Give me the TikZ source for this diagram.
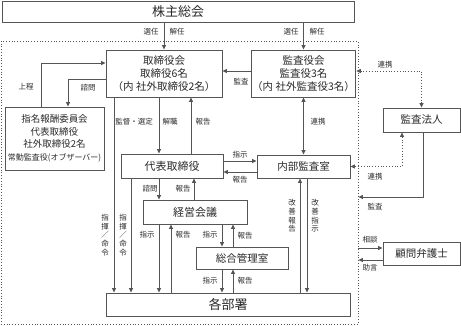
\documentclass[tikz,border=0pt]{standalone}
\usepackage{fontspec}
\setmainfont{Noto Sans CJK JP}
\usetikzlibrary{arrows.meta}
\definecolor{OrgLine}{HTML}{555555}
\definecolor{OrgText}{HTML}{2A2A2A}
\tikzset{
  >={Triangle[length=4.5pt,width=4pt]},
  box/.style={draw=OrgLine, line width=0.9pt, fill=white, align=center,
              inner sep=1pt, text=OrgText, font=\fontsize{10.5}{13}\selectfont},
  bigbox/.style={box, font=\fontsize{13}{15}\selectfont},
  frame/.style={draw=OrgLine, dotted, line width=0.8pt, inner sep=0pt},
  flow/.style={->, line width=0.8pt, draw=OrgLine},
  twoway/.style={<->, line width=0.8pt, draw=OrgLine},
  link/.style={twoway, dotted},
  lbl/.style={inner sep=0.5pt, text=OrgText, align=center,
              font=\fontsize{7.5}{8.6}\selectfont}
}
\begin{document}
\begin{tikzpicture}[x=1pt,y=-1pt]
  \useasboundingbox (0,0) rectangle (461,326);

  \node[frame, minimum width=357pt, minimum height=283pt] (group) at (179.5,182.5) {};

  \node[bigbox, minimum width=352pt, minimum height=21pt] (meeting) at (178,11.5) {株主総会};
  \node[box, minimum width=116pt, minimum height=47pt] (board) at (164,73.5)
    {取締役会\\取締役6名\\（内 社外取締役2名）};
  \node[box, minimum width=93pt, minimum height=47pt] (kansa) at (303.5,73.5)
    {監査役会\\監査役3名\\（内 社外監査役3名）};
  \node[box, minimum width=99pt, minimum height=63pt,
        font=\fontsize{9.5}{12.5}\selectfont] (nomcom) at (54.5,138.5)
    {指名報酬委員会\\代表取締役\\社外取締役2名\\{\fontsize{8}{10}\selectfont 常勤監査役(オブザーバー)}};
  \node[box, minimum width=102pt, minimum height=24pt,
        font=\fontsize{11}{13}\selectfont] (ceo) at (172,166) {代表取締役};
  \node[box, minimum width=93pt, minimum height=23pt] (internal) at (303.5,166.5) {内部監査室};
  \node[box, minimum width=104pt, minimum height=24pt,
        font=\fontsize{11}{13}\selectfont] (mgmt) at (195,212) {経営会議};
  \node[box, minimum width=92pt, minimum height=22pt] (general) at (242,258) {総合管理室};
  \node[bigbox, minimum width=244pt, minimum height=23pt] (depts) at (228,304.5) {各部署};
  \node[box, minimum width=77pt, minimum height=24pt] (auditor) at (421.5,120) {監査法人};
  \node[box, minimum width=77pt, minimum height=23pt] (lawyer) at (421.5,253.5) {顧問弁護士};

  % shareholders
  \draw[flow] (meeting.south -| board.north) -- (board.north);
  \draw[flow] (meeting.south -| kansa.north) -- (kansa.north);
  \node[lbl] (sel1) at (151,32) {選任};
  \node[lbl] (dis1) at (177,32) {解任};
  \node[lbl] (sel2) at (291,32) {選任};
  \node[lbl] (dis2) at (317,32) {解任};

  % board level
  \draw[flow] ([yshift=2.5pt]kansa.west) -- ([yshift=2.5pt]board.east);
  \node[lbl] (audlbl) at (241,82) {監査};
  \draw[link] ([yshift=2.5pt]kansa.east) -| (auditor.north);
  \node[lbl] (co1) at (385,65) {連携};
  \draw[flow] ([xshift=-13.5pt]nomcom.north) |- ([yshift=10.5pt]board.west);
  \draw[flow] ([yshift=-5.5pt]board.west) -| ([xshift=13.5pt]nomcom.north);
  \node[lbl] (sub) at (26,87) {上程};
  \node[lbl] (cons1) at (88,88) {諮問};

  % board to ceo
  \draw[flow] ([xshift=-50pt]board.south) -- ([xshift=-50pt]board.south |- depts.north);
  \draw[flow] ([xshift=-5pt]board.south) -- ([xshift=-5pt]board.south |- ceo.north);
  \draw[flow] ([xshift=19pt]ceo.north) -- ([xshift=19pt]ceo.north |- board.south);
  \node[lbl] (sup) at (134,122) {監督・選定};
  \node[lbl] (dism) at (170,122) {解職};
  \node[lbl] (rep1) at (203,122) {報告};
  \draw[twoway] (kansa.south) -- (internal.north);
  \node[lbl] (co2) at (318,122) {連携};

  % ceo and internal audit
  \draw[flow] ([yshift=5pt]ceo.east) -- ([yshift=5pt]ceo.east -| internal.west);
  \draw[flow] ([yshift=-6pt]ceo.east -| internal.west) -- ([yshift=-6pt]ceo.east);
  \node[lbl] (ins1) at (240,155) {指示};
  \node[lbl] (rep2) at (240,180) {報告};
  \draw[link] ([xshift=-19.5pt]auditor.south) |- (internal.east);
  \node[lbl] (co3) at (375,177) {連携};
  \draw[flow] ([xshift=1.5pt]auditor.south) |- ([yshift=-14.5pt]group.east);
  \node[lbl] (audlbl2) at (375,207) {監査};

  % ceo downward
  \draw[flow] ([xshift=-41pt]ceo.south) -- ([xshift=-41pt]ceo.south |- depts.north);
  \node[lbl] (cmd1) at (105,235) {指\\揮\\／\\命\\令};
  \node[lbl] (cmd2) at (123,235) {指\\揮\\／\\命\\令};
  \draw[flow] ([xshift=-13pt]ceo.south) -- ([xshift=-13pt]ceo.south |- mgmt.north);
  \draw[flow] ([xshift=-1pt]mgmt.north) -- ([xshift=-1pt]mgmt.north |- ceo.south);
  \node[lbl] (cons2) at (150,189) {諮問};
  \node[lbl] (rep3) at (183,189) {報告};

  % management meeting
  \draw[flow] ([xshift=-36pt]mgmt.south) -- ([xshift=-36pt]mgmt.south |- depts.north);
  \draw[flow] ([xshift=-24pt]depts.north -| mgmt.south) -- ([xshift=-24pt]mgmt.south);
  \node[lbl] (ins2) at (147,235) {指示};
  \node[lbl] (rep4) at (183,235) {報告};
  \draw[flow] ([xshift=27pt]mgmt.south) -- ([xshift=27pt]mgmt.south |- general.north);
  \draw[flow] ([xshift=-9pt]general.north) -- ([xshift=-9pt]general.north |- mgmt.south);
  \node[lbl] (ins3) at (210,235) {指示};
  \node[lbl] (rep5) at (245,236) {報告};

  % general affairs
  \draw[flow] ([xshift=-20pt]general.south) -- ([xshift=-20pt]general.south |- depts.north);
  \draw[flow] ([xshift=-9pt]general.south |- depts.north) -- ([xshift=-9pt]general.south);
  \node[lbl] (ins4) at (210,281) {指示};
  \node[lbl] (rep6) at (245,281) {報告};

  % internal audit to departments
  \draw[flow] ([xshift=-3.5pt]internal.south |- depts.north) -- ([xshift=-3.5pt]internal.south);
  \draw[flow] ([xshift=3.5pt]internal.south) -- ([xshift=3.5pt]internal.south |- depts.north);
  \node[lbl] (imp1) at (292,216) {改\\善\\報\\告};
  \node[lbl] (imp2) at (315,216) {改\\善\\指\\示};

  % lawyer
  \draw[flow] ([yshift=5.5pt]lawyer.west -| group.east) -- ([yshift=5.5pt]lawyer.west);
  \draw[flow] ([yshift=-6.5pt]lawyer.west) -- ([yshift=-6.5pt]lawyer.west -| group.east);
  \node[lbl] (ask) at (370,240) {相談};
  \node[lbl] (adv) at (370,268) {助言};
\end{tikzpicture}
\end{document}
